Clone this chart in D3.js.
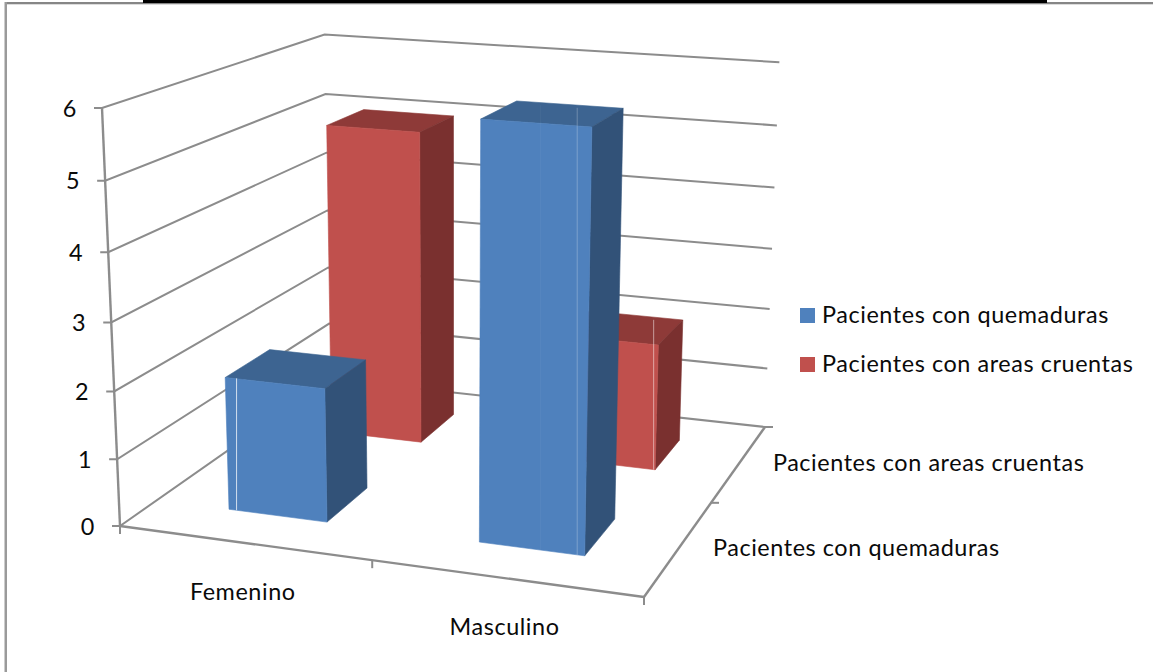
<!DOCTYPE html>
<html lang="es">
<head>
<meta charset="utf-8">
<title>Pacientes por sexo</title>
<script src="https://cdn.jsdelivr.net/npm/d3@7/dist/d3.min.js"></script>
<style>
  html, body { margin: 0; padding: 0; background: #fff; }
  svg { display: block; }
  text { font-family: Lato, "Open Sans", sans-serif; fill: #0a0a0a; }
</style>
</head>
<body>
<svg id="chart" width="1153" height="672"></svg>
<script>
// Chart values
const categories = ["Femenino", "Masculino"];
const seriesNames = ["Pacientes con quemaduras", "Pacientes con areas cruentas"];
const quemaduras = [2, 6];
const areasCruentas = [5, 2];
const valueTicks = [0, 1, 2, 3, 4, 5, 6];

// Face colours: front, top, right side
const seriesFaces = [
  { front: "#4f81bd", top: "#3d6491", side: "#325278" },
  { front: "#c0504d", top: "#8e3a38", side: "#7a302f" }
];
const gridColor = "#8c8c8c";
const fontSize = 23.4;
const letterSpacing = 0.58;

const svg = d3.select("#chart");

// Unit-cube scales: u across categories, v up the values, w into the depth.
// A gap width of 150% leaves each bar 40% of its band.
const uScale = d3.scaleBand().domain(categories).range([0, 1]).paddingInner(0.6).paddingOuter(0.3);
const wScale = d3.scaleBand().domain(seriesNames).range([0, 1]).paddingInner(0.6).paddingOuter(0.3);
const vScale = d3.scaleLinear().domain([0, 6]).range([0, 1]);

// Perspective camera: floor origin, the three axis ends in screen space and
// the depth weight at each end.
const origin = [120, 526], xEnd = [644, 597], yEnd = [102, 108], zEnd = [330, 379];
const weightX = 0.928, weightY = 0.949, weightZ = 1.2246;

function project(u, v, w) {
  const k = 1 + u * (weightX - 1) + v * (weightY - 1) + w * (weightZ - 1);
  const axis = i => origin[i]
    + u * (weightX * xEnd[i] - origin[i])
    + v * (weightY * yEnd[i] - origin[i])
    + w * (weightZ * zEnd[i] - origin[i]);
  return [axis(0) / k, axis(1) / k];
}

const line = d3.line();
const gWalls = svg.append("g");
const gBars = svg.append("g");
const gSeams = svg.append("g");
const gText = svg.append("g").style("font-size", fontSize + "px").style("letter-spacing", letterSpacing + "px");

// Page frame above and to the left of the chart
svg.append("rect").attr("x", 5).attr("y", 2).attr("width", 1148).attr("height", 2).attr("fill", "#868686");
svg.append("rect").attr("x", 5).attr("y", 4).attr("width", 1148).attr("height", 1).attr("fill", "#dcdcdc");
svg.append("rect").attr("x", 4.5).attr("y", 2).attr("width", 2.5).attr("height", 670).attr("fill", "#9a9a9a");
svg.append("rect").attr("x", 143).attr("y", 0).attr("width", 904).attr("height", 3).attr("fill", "#000");

// Wall gridlines with their value ticks
valueTicks.forEach(t => {
  const v = vScale(t);
  const front = project(0, v, 0), back = project(0, v, 1), right = project(1, v, 1);
  gWalls.append("path")
    .attr("d", line([[front[0] - 8, front[1]], front, back, right]))
    .attr("fill", "none").attr("stroke", gridColor).attr("stroke-width", 2);
  gText.append("text")
    .attr("x", front[0] - 25).attr("y", front[1] + 8.5)
    .attr("text-anchor", "end").text(t);
});

// Vertical value axis and floor edges
const axisPaths = [
  [project(0, 0, 0), project(0, 1, 0)],
  [project(0, 0, 0), project(1, 0, 0)],
  [project(1, 0, 0), project(1, 0, 1)]
];
axisPaths.forEach(p => gWalls.append("path").attr("d", line(p))
  .attr("fill", "none").attr("stroke", gridColor).attr("stroke-width", 2.4));

// Category ticks hang below the front edge, depth ticks run right off the side edge
[0, 0.5, 1].forEach(u => {
  const p = project(u, 0, 0);
  gWalls.append("path").attr("d", line([p, [p[0], p[1] + 8]]))
    .attr("fill", "none").attr("stroke", gridColor).attr("stroke-width", 2);
});
[0.5, 1].forEach(w => {
  const p = project(1, 0, w);
  gWalls.append("path").attr("d", line([p, [p[0] + 8, p[1]]]))
    .attr("fill", "none").attr("stroke", gridColor).attr("stroke-width", 2);
});

// Bars, drawn from the back row forward so nearer ones overlap
const seriesValues = [quemaduras, areasCruentas];
const drawOrder = [1, 0];
const face = (pts, fill) => gBars.append("path")
  .attr("d", line(pts) + "Z")
  .attr("fill", fill).attr("stroke", fill).attr("stroke-width", 0.6);

drawOrder.forEach(s => {
  const name = seriesNames[s];
  const w0 = wScale(name), w1 = w0 + wScale.bandwidth();
  categories.forEach((cat, c) => {
    const u0 = uScale(cat), u1 = u0 + uScale.bandwidth();
    const v = vScale(seriesValues[s][c]);
    const colors = seriesFaces[s];
    face([project(u0, v, w0), project(u1, v, w0), project(u1, v, w1), project(u0, v, w1)], colors.top);
    face([project(u1, 0, w0), project(u1, v, w0), project(u1, v, w1), project(u1, 0, w1)], colors.side);
    face([project(u0, 0, w0), project(u1, 0, w0), project(u1, v, w0), project(u0, v, w0)], colors.front);
  });
});

// Hairline joints where the bar faces were tessellated
const seams = [
  { series: 0, category: 0, along: 0.078, opacity: 0.75, overTop: false },
  { series: 0, category: 1, along: 0.585, opacity: 0.04, overTop: true },
  { series: 0, category: 1, along: 0.93, opacity: 0.25, overTop: true },
  { series: 1, category: 1, along: 0.985, opacity: 0.5, overTop: true }
];
seams.forEach(seam => {
  const name = seriesNames[seam.series], cat = categories[seam.category];
  const w0 = wScale(name), w1 = w0 + wScale.bandwidth();
  const u = uScale(cat) + seam.along * uScale.bandwidth();
  const v = vScale(seriesValues[seam.series][seam.category]);
  const foot = project(u, 0, w0);
  const head = project(u, v, seam.overTop ? w1 : w0);
  gSeams.append("path").attr("d", line([foot, [foot[0], head[1]]]))
    .attr("fill", "none").attr("stroke", "#fff").attr("stroke-opacity", seam.opacity).attr("stroke-width", 1);
});

// Category names under the front edge, series names beside the side edge
categories.forEach(cat => {
  const p = project(uScale(cat) + uScale.bandwidth() / 2, 0, 0);
  gText.append("text").attr("x", p[0] - 1).attr("y", p[1] + 57)
    .attr("text-anchor", "middle").text(cat);
});
seriesNames.forEach(name => {
  const p = project(1, 0, wScale(name) + wScale.bandwidth() / 2);
  gText.append("text").attr("x", p[0] + 33.5).attr("y", p[1] + 8.5).text(name);
});

// Legend
const legendY = d3.scalePoint().domain(seriesNames).range([315.5, 364.5]);
seriesNames.forEach((name, s) => {
  svg.append("rect").attr("x", 800).attr("y", legendY(name) - 7.5)
    .attr("width", 15).attr("height", 15).attr("fill", seriesFaces[s].front);
  gText.append("text").attr("x", 822).attr("y", legendY(name) + 7.5).text(name);
});
</script>
</body>
</html>
